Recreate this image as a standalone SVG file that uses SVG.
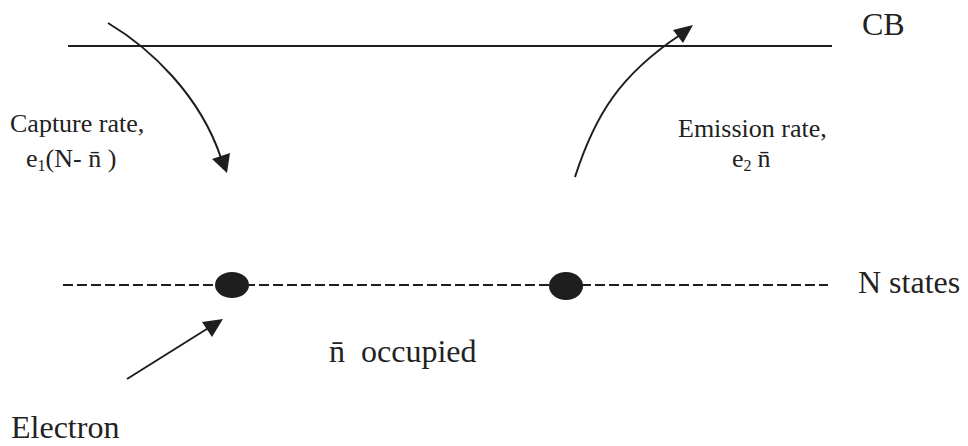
<svg xmlns="http://www.w3.org/2000/svg" width="968" height="446" viewBox="0 0 968 446">
<defs>
<style>
text{font-family:'Liberation Serif','Times New Roman','DejaVu Serif',serif;fill:#222}
.ln{stroke:#1e1e1e;stroke-width:2;fill:none}
.hd{fill:#1e1e1e}
</style>
</defs>
<rect width="968" height="446" fill="#fff"/>
<g id="cb">
<line class="ln" x1="68" y1="46" x2="832" y2="46"/>
<text x="862" y="35" font-size="32">CB</text>
</g>
<g id="nstates">
<line x1="63" y1="285" x2="828" y2="285" stroke="#1e1e1e" stroke-width="2" stroke-dasharray="10,4"/>
<text x="858" y="293" font-size="32">N states</text>
</g>
<g id="electron1"><ellipse cx="232" cy="285" rx="17" ry="13" fill="#1e1e1e"/></g>
<g id="electron2"><ellipse cx="566" cy="286" rx="17" ry="14" fill="#1e1e1e"/></g>
<g id="connectors">
<path class="ln" d="M108,23 C150,48 200,95 221,158"/>
<path class="hd" d="M227,173 L212,159 L230,153 z"/>
<path class="ln" d="M575,177 C595,115 620,75 680,35"/>
<path class="hd" d="M693,25 L673,30 L683,43 z"/>
<line class="ln" x1="127" y1="379" x2="210" y2="327"/>
<path class="hd" d="M223,319 L202,322 L212,337 z"/>
</g>
<g id="capture">
<text x="10" y="132" font-size="26">Capture rate,</text>
<text x="26" y="167" font-size="26">e<tspan dy="4" font-size="16">1</tspan><tspan dy="-4">(N- n&#x304; )</tspan></text>
</g>
<g id="emission">
<text x="678" y="137" font-size="26">Emission rate,</text>
<text x="732" y="167" font-size="26">e<tspan dy="4" font-size="16">2</tspan><tspan dy="-4" dx="6">n&#x304;</tspan></text>
</g>
<g id="occupied"><text x="329" y="362" font-size="32">n&#x304;<tspan dx="8"> occupied</tspan></text></g>
<g id="electron"><text x="11" y="438" font-size="32">Electron</text></g>
</svg>
